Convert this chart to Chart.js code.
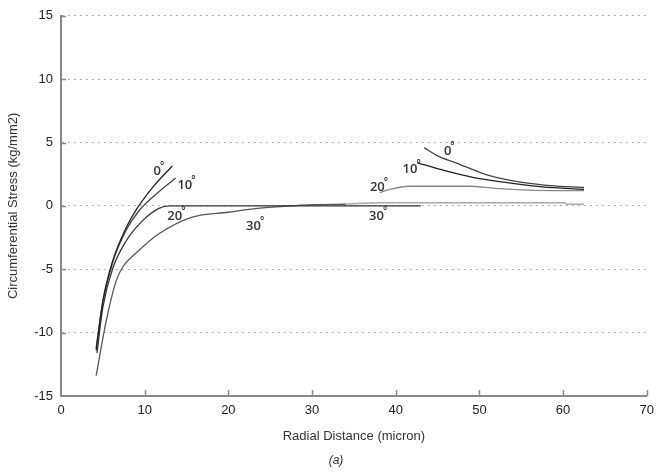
<!DOCTYPE html>
<html>
<head>
<meta charset="utf-8">
<script src="https://cdn.jsdelivr.net/npm/chart.js@4.4.0/dist/chart.umd.min.js"></script>
<style>
  html, body { margin: 0; padding: 0; background: #fff; }
  #wrap { width: 661px; height: 472px; position: relative; }
</style>
</head>
<body>
<div id="wrap"><canvas id="stressChart"></canvas></div>
<script>
// radial distance (micron) / circumferential stress (kg/mm2) for each angle
var r0Inner = [4.2, 5.0, 6.2, 7.8, 9.0, 11.0, 13.3];
var s0Inner = [-11.4, -7.5, -4.3, -1.7, -0.3, 1.5, 3.15];
var r10Inner = [4.2, 5.0, 6.2, 7.8, 9.3, 11.5, 13.7];
var s10Inner = [-11.2, -7.6, -4.4, -1.9, -0.4, 1.0, 2.2];
var r20Inner = [4.3, 5.0, 6.2, 7.8, 9.7, 11.7, 13.0, 20.0, 30.0, 43.0];
var s20Inner = [-11.6, -8.0, -4.9, -2.75, -1.2, -0.2, 0, 0, 0, 0];
var r30Inner = [4.2, 5.4, 6.6, 7.4, 9.0, 11.7, 15.6, 20.0, 23.5, 27.5, 30.0, 34.0];
var s30Inner = [-13.4, -9.1, -5.9, -4.8, -3.7, -2.2, -0.9, -0.5, -0.2, 0, 0.1, 0.13];

var r0Outer = [43.4, 45.0, 47.2, 51.1, 55.1, 58.5, 62.5];
var s0Outer = [4.6, 3.95, 3.4, 2.4, 1.85, 1.6, 1.45];
var r10Outer = [42.6, 45.2, 49.2, 53.1, 57.5, 62.5];
var s10Outer = [3.4, 2.9, 2.25, 1.85, 1.5, 1.3];
var r20Outer = [38.1, 39.3, 41.7, 48.8, 51.9, 55.8, 62.5];
var s20Outer = [1.05, 1.3, 1.55, 1.55, 1.38, 1.25, 1.2];
var r30Outer = [34.0, 38.0, 50.0, 60.2, 60.5, 62.5];
var s30Outer = [0.15, 0.25, 0.25, 0.25, 0.13, 0.13];

// curve labels: angle text placed at (radial, stress)
var angleNames = ["0", "10", "20", "30", "0", "10", "20", "30"];
var angleAtR = [11.5, 14.8, 13.6, 23.0, 46.2, 41.7, 37.8, 37.7];
var angleAtS = [2.75, 1.6, -0.8, -1.6, 4.3, 2.9, 1.5, -0.8];

var xTicks = [0, 10, 20, 30, 40, 50, 60, 70];
var yTicks = [-15, -10, -5, 0, 5, 10, 15];

function pts(xs, ys) {
  return xs.map(function (x, i) { return { x: x, y: ys[i] }; });
}

function curve(xs, ys, color) {
  return {
    data: pts(xs, ys),
    borderColor: color,
    borderWidth: 1.3,
    pointRadius: 0,
    showLine: true,
    fill: false,
    cubicInterpolationMode: "monotone"
  };
}

var numFont = "'Liberation Sans Narrow', 'Liberation Sans', Arial, sans-serif";

// inward tick marks, angle labels and the (a) caption
var decorations = {
  id: "decorations",
  afterDraw: function (chart) {
    var ctx = chart.ctx;
    var xs = chart.scales.x, ys = chart.scales.y;
    var area = chart.chartArea;
    ctx.save();
    ctx.strokeStyle = "#888";
    ctx.lineWidth = 1.5;
    xTicks.forEach(function (v) {
      if (v === 0) return;
      var px = Math.round(xs.getPixelForValue(v)) + 0.5;
      ctx.beginPath();
      ctx.moveTo(px, area.bottom);
      ctx.lineTo(px, area.bottom - 6);
      ctx.stroke();
    });
    yTicks.forEach(function (v) {
      if (v === -15) return;
      var py = Math.round(ys.getPixelForValue(v)) + 0.5;
      ctx.beginPath();
      ctx.moveTo(area.left, py);
      ctx.lineTo(area.left + 5, py);
      ctx.stroke();
    });

    ctx.fillStyle = "#333";
    ctx.textBaseline = "middle";
    angleNames.forEach(function (t, i) {
      var px = xs.getPixelForValue(angleAtR[i]);
      var py = ys.getPixelForValue(angleAtS[i]);
      ctx.font = "600 13px 'Open Sans', sans-serif";
      var w = ctx.measureText(t).width;
      ctx.textAlign = "left";
      ctx.fillText(t, px - w / 2, py);
      ctx.font = "600 10px 'Open Sans', sans-serif";
      ctx.fillText("\u00b0", px + w / 2 - 1, py - 5);
    });

    ctx.font = "italic 12px " + numFont;
    ctx.textAlign = "center";
    ctx.fillText("(a)", 336, 461);
    ctx.restore();
  }
};

var ctx = document.getElementById("stressChart").getContext("2d");
var chart = new Chart(ctx, {
  type: "scatter",
  data: {
    datasets: [
      curve(r0Inner, s0Inner, "#222"),
      curve(r10Inner, s10Inner, "#444"),
      curve(r20Inner, s20Inner, "#333"),
      curve(r30Inner, s30Inner, "#555"),
      curve(r0Outer, s0Outer, "#444"),
      curve(r10Outer, s10Outer, "#222"),
      curve(r20Outer, s20Outer, "#888"),
      curve(r30Outer, s30Outer, "#aaa")
    ]
  },
  options: {
    responsive: true,
    maintainAspectRatio: false,
    animation: false,
    layout: { padding: { top: 14, right: 8, left: 0, bottom: 28 } },
    plugins: {
      legend: { display: false },
      tooltip: { enabled: false }
    },
    scales: {
      x: {
        type: "linear",
        min: 0,
        max: 70,
        afterBuildTicks: function (scale) {
          scale.ticks = xTicks.map(function (v) { return { value: v }; });
        },
        afterFit: function (scale) { scale.height = 48; },
        grid: { display: false, drawTicks: false },
        border: { display: true, color: "#888", width: 2 },
        ticks: { color: "#222", font: { family: numFont, size: 13 }, padding: 7 },
        title: {
          display: true,
          text: "Radial Distance (micron)",
          color: "#333",
          font: { family: numFont, size: 13 },
          padding: { top: 6, bottom: 0 }
        }
      },
      y: {
        type: "linear",
        min: -15,
        max: 15,
        afterBuildTicks: function (scale) {
          scale.ticks = yTicks.map(function (v) { return { value: v }; });
        },
        afterFit: function (scale) { scale.width = 61; },
        grid: {
          color: "#999",
          lineWidth: 1,
          drawTicks: false
        },
        // in v4 border.dash sets the dash pattern of the grid lines
        border: { display: true, color: "#888", width: 2, dash: [1.5, 4.5] },
        ticks: { color: "#222", font: { family: numFont, size: 13 }, padding: 8 },
        title: {
          display: true,
          text: "Circumferential Stress (kg/mm2)",
          color: "#333",
          font: { family: numFont, size: 13 },
          padding: { top: 6, bottom: 4 }
        }
      }
    }
  },
  plugins: [decorations]
});
</script>
</body>
</html>
